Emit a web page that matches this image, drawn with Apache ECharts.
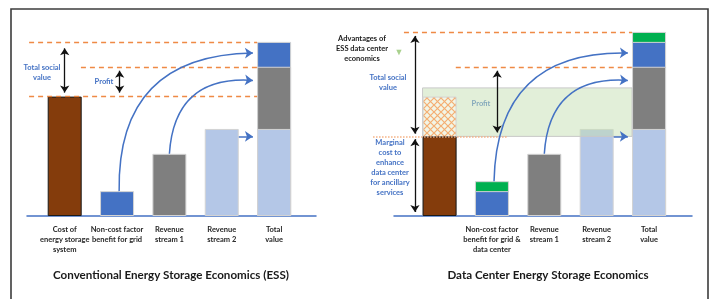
<!DOCTYPE html>
<html>
<head>
<meta charset="utf-8">
<script src="https://cdn.jsdelivr.net/npm/echarts@6/dist/echarts.min.js"></script>
<style>
html, body { margin: 0; padding: 0; background: #fff; }
#chart { width: 713px; height: 299px; }
</style>
</head>
<body>
<div id="chart"></div>
<script>
// categories (x positions 0..4)
const essCategories = ['Cost of\nenergy storage\nsystem', 'Non-cost factor\nbenefit for grid', 'Revenue\nstream 1', 'Revenue\nstream 2', 'Total\nvalue'];
const dcCategories = ['Cost of\nenergy storage\nsystem', 'Non-cost factor\nbenefit for grid &\ndata center', 'Revenue\nstream 1', 'Revenue\nstream 2', 'Total\nvalue'];
const categoryPos = [0, 1, 2, 3, 4];

// bar heights (arbitrary units): cost, non-cost benefit, revenue 1, revenue 2
const essValues = [4.8, 1.0, 2.5, 3.5];
const dcValues = [3.2, 1.0, 2.5, 3.5];
// data center case: cost avoided (hatched), extra benefit (green)
const dcCostAvoided = [1.6];
const dcExtraBenefit = [0.4];
// top of the shaded profit band
const dcBandTop = [5.15];

const colors = {
  brown: '#843C0C', blue: '#4472C4', gray: '#7F7F7F', light: '#B4C7E7',
  green: '#00B050', orange: '#ED7D31', text: '#262626'
};
const barWidth = 34;
const xMin = [-0.72, -0.87], xMax = [4.8, 4.82];
const gridLeft = [27, 394], gridWidth = [289, 298];
const halfBar = (barWidth / 2) / (gridWidth[0] / (xMax[0] - xMin[0]));
const edge = 4 - halfBar;       // left edge of the total bar
const tipEnd = edge - 0.08;     // arrow tips stop at the bar

let chart = echarts.init(document.getElementById('chart'));

function hatchPattern() {
  let c = document.createElement('canvas');
  c.width = c.height = 7;
  let g = c.getContext('2d');
  g.fillStyle = 'rgba(255,250,240,0.55)';
  g.fillRect(0, 0, 7, 7);
  g.strokeStyle = '#F4AE72';
  g.lineWidth = 1.2;
  g.beginPath();
  g.moveTo(-1, -1); g.lineTo(8, 8);
  g.moveTo(8, -1); g.lineTo(-1, 8);
  g.stroke();
  return c;
}

// bars overlap in one column (barGap -100%); stacked segments are drawn
// as cumulative heights, tallest first
function bar(gi, name, x, y, color, extra) {
  return Object.assign({
    type: 'bar', name: name, xAxisIndex: gi, yAxisIndex: gi,
    barWidth: barWidth, barGap: '-100%',
    data: [[x, y]],
    itemStyle: { color: color, borderColor: '#D3D3D3', borderWidth: 1 }
  }, extra || {});
}

function lines(gi, items, style, symbol, size) {
  return {
    type: 'lines', coordinateSystem: 'cartesian2d', xAxisIndex: gi, yAxisIndex: gi,
    z: 6, clip: false, symbol: symbol, symbolSize: size, silent: true,
    lineStyle: Object.assign({ opacity: 1 }, style),
    data: items.map(function (it) {
      return { coords: it[0], lineStyle: { curveness: it[1] || 0 } };
    })
  };
}

function panelSeries(gi, vals, extraBenefit, costAvoided) {
  let cost = vals[0], nonCost = vals[1], rev1 = vals[2], rev2 = vals[3];
  let top = rev1 + rev2 + nonCost + extraBenefit;
  let s = [];
  if (costAvoided) {
    let pat = { image: hatchPattern(), repeat: 'repeat' };
    s.push(bar(gi, 'Cost avoided', categoryPos[0], cost + costAvoided, pat, { z: 4 }));
  }
  s.push(bar(gi, 'Cost', categoryPos[0], cost, colors.brown, {
    z: 5, itemStyle: { color: colors.brown, borderColor: '#1a1a1a', borderWidth: 1 }
  }));
  if (extraBenefit) {
    s.push(bar(gi, 'Extra benefit', categoryPos[1], nonCost + extraBenefit, colors.green));
  }
  s.push(bar(gi, 'Non-cost', categoryPos[1], nonCost, colors.blue));
  s.push(bar(gi, 'Revenue 1', categoryPos[2], rev1, colors.gray));
  s.push(bar(gi, 'Revenue 2', categoryPos[3], rev2, colors.light));
  if (extraBenefit) s.push(bar(gi, 'Total', categoryPos[4], top, colors.green));
  s.push(bar(gi, 'Total', categoryPos[4], rev2 + rev1 + nonCost, colors.blue));
  s.push(bar(gi, 'Total', categoryPos[4], rev2 + rev1, colors.gray));
  s.push(bar(gi, 'Total', categoryPos[4], rev2, colors.light));

  // dashed reference lines
  let dashed = [
    [[[-0.68, top], [edge, top]]],
    [[[0.31, rev1 + rev2], [edge, rev1 + rev2]]]
  ];
  if (!costAvoided) dashed.push([[[-0.68, cost], [edge, cost]]]);
  s.push(lines(gi, dashed, { color: colors.orange, width: 1.3, type: [5, 4], opacity: 0.9 }, 'none', 0));
  if (costAvoided) {
    s.push(lines(gi, [[[[-1.27, cost], [1.29, cost]]]], { color: '#F4B183', width: 1.5, type: 'dotted' }, 'none', 0));
  }
  // blue arrows into the total bar
  let p = 0.16;
  s.push(lines(gi, [
    [[[categoryPos[1] + 0.04, nonCost + extraBenefit], [tipEnd, rev1 + rev2 + nonCost / 2 + 0.05]], 0.5],
    [[[categoryPos[2], rev1], [tipEnd, rev2 + rev1 * 0.78]], 0.5],
    [[[categoryPos[3] + halfBar, rev2 - 0.3], [tipEnd, rev2 - 0.3]], 0]
  ], { color: colors.blue, width: 1.5 }, ['none', 'arrow'], 8));
  // black double arrows
  let black;
  if (!costAvoided) {
    black = [
      [[[0, top - p - 0.1], [0, cost + p]]],
      [[[1.05, rev1 + rev2 - p], [1.05, cost + p]]]
    ];
  } else {
    black = [
      [[[-0.47, top - p], [-0.47, cost + p - 0.05]]],
      [[[-0.47, cost - p + 0.05], [-0.47, p]]],
      [[[1.1, rev1 + rev2 - p], [1.1, cost + p]]]
    ];
  }
  s.push(lines(gi, black, { color: '#111', width: 1.3 }, ['arrow', 'arrow'], 7));
  return s;
}

let series = panelSeries(0, essValues, 0, 0)
  .concat(panelSeries(1, dcValues, dcExtraBenefit[0], dcCostAvoided[0]));

// profit band in the data center chart
series.push({
  type: 'custom', xAxisIndex: 1, yAxisIndex: 1, z: 3, silent: true,
  data: [[categoryPos[0] - halfBar, dcValues[0], edge, dcBandTop[0]]],
  encode: { x: [0, 2], y: [1, 3] },
  renderItem: function (params, api) {
    let a = api.coord([api.value(0), api.value(1)]);
    let b = api.coord([api.value(2), api.value(3)]);
    return {
      type: 'rect',
      shape: { x: a[0], y: b[1], width: b[0] - a[0], height: a[1] - b[1] },
      style: { fill: 'rgba(197,224,180,0.5)', stroke: '#C9C9C9', lineWidth: 1 }
    };
  }
});

function xAxis(gi, cats) {
  return {
    type: 'value', gridIndex: gi, min: xMin[gi], max: xMax[gi],
    axisLine: { show: true, onZero: false, lineStyle: { color: colors.blue, width: 1.5 } },
    axisTick: { show: false },
    splitLine: { show: false },
    axisLabel: {
      customValues: categoryPos,
      formatter: function (v) { return cats[Math.round(v)] || ''; },
      margin: 9, color: colors.text, fontFamily: 'Lato', fontWeight: 'bold',
      fontSize: 7.5, lineHeight: 10, align: 'center'
    }
  };
}

function txt(text, x, y, color, size, lh, weight) {
  return {
    type: 'text', silent: true,
    style: {
      text: text, x: x, y: y, fill: color,
      font: (weight || 'bold') + ' ' + size + 'px Lato',
      textAlign: 'center', textVerticalAlign: 'top', lineHeight: lh
    }
  };
}

let option = {
  animation: false,
  backgroundColor: '#fff',
  grid: [
    { left: gridLeft[0], width: gridWidth[0], top: 17, height: 199 },
    { left: gridLeft[1], width: gridWidth[1], top: 17, height: 199 }
  ],
  xAxis: [xAxis(0, essCategories), xAxis(1, dcCategories)],
  yAxis: [
    { type: 'value', gridIndex: 0, min: 0, max: 8, show: false },
    { type: 'value', gridIndex: 1, min: 0, max: 8, show: false }
  ],
  series: series,
  graphic: [
    { type: 'rect', silent: true, shape: { x: 11, y: 9, width: 697, height: 300 },
      style: { fill: 'none', stroke: '#3c3c3c', lineWidth: 1.6 } },
    txt('Total social\nvalue', 42, 63, colors.blue, 7.5, 10),
    txt('Profit', 104, 77, colors.blue, 7.5, 10),
    txt('Advantages of\nESS data center\neconomics', 362, 34, '#1a1a1a', 7.5, 9.7),
    txt('\u25BC', 399, 47, '#A9D18E', 9, 10, 'normal'),
    txt('Total social\nvalue', 388, 73, colors.blue, 7.5, 9.5),
    txt('Profit', 481, 99, colors.blue, 7.5, 10),
    txt('Marginal\ncost to\nenhance\ndata center\nfor ancillary\nservices', 390, 138, colors.blue, 7.5, 10),
    txt('Conventional Energy Storage Economics (ESS)', 171, 269, '#1a1a1a', 11.6, 13),
    txt('Data Center Energy Storage Economics', 548, 269, '#1a1a1a', 11.6, 13)
  ]
};
chart.setOption(option);
</script>
</body>
</html>
